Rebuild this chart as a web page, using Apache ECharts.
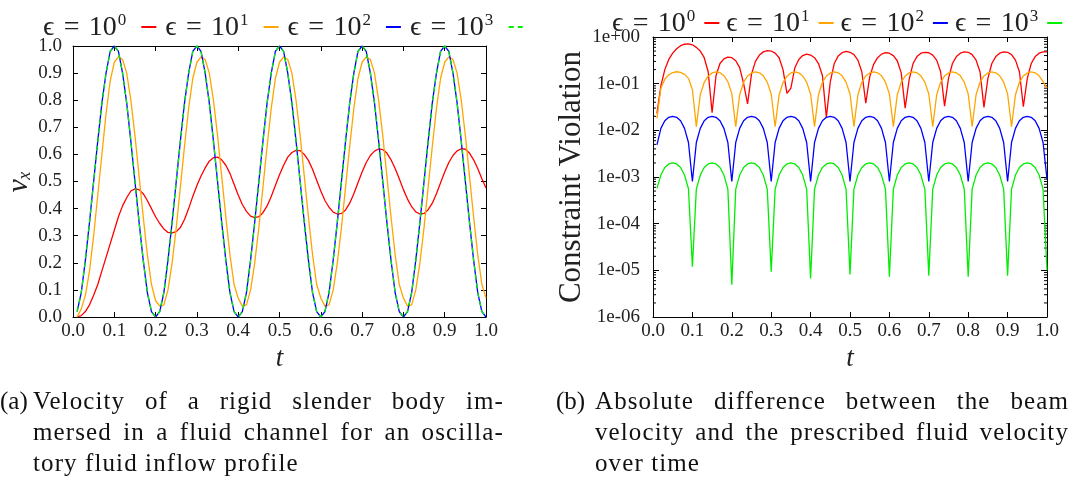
<!DOCTYPE html>
<html>
<head>
<meta charset="utf-8">
<script src="https://cdn.jsdelivr.net/npm/echarts@6/dist/echarts.min.js"></script>
<style>
body { margin: 0; background: #fff; }
#chart { width: 1075px; height: 481px; }
.cap { position: absolute; font-family: "Liberation Serif", serif; font-size: 25px; color: #111; line-height: 31px; letter-spacing: 1.1px; }
.j { text-align: justify; text-align-last: justify; }
</style>
</head>
<body>
<div id="chart"></div>
<div class="cap" style="left:0;top:385px;letter-spacing:0">(a)</div>
<div class="cap" style="left:33px;top:385px;width:471px">
  <div class="j">Velocity of a rigid slender body im-</div>
  <div class="j">mersed in a fluid channel for an oscilla-</div>
  <div>tory fluid inflow profile</div>
</div>
<div class="cap" style="left:556px;top:385px;letter-spacing:0">(b)</div>
<div class="cap" style="left:595px;top:385px;width:474px">
  <div class="j">Absolute difference between the beam</div>
  <div class="j">velocity and the prescribed fluid velocity</div>
  <div>over time</div>
</div>
<script>
// time samples shared by both panels
var times = [
    0.01,0.02,0.03,0.04,0.05,0.06,0.07,0.08,0.09,0.10,
    0.11,0.12,0.13,0.14,0.15,0.16,0.17,0.18,0.19,0.20,
    0.21,0.22,0.23,0.24,0.25,0.26,0.27,0.28,0.29,0.30,
    0.31,0.32,0.33,0.34,0.35,0.36,0.37,0.38,0.39,0.40,
    0.41,0.42,0.43,0.44,0.45,0.46,0.47,0.48,0.49,0.50,
    0.51,0.52,0.53,0.54,0.55,0.56,0.57,0.58,0.59,0.60,
    0.61,0.62,0.63,0.64,0.65,0.66,0.67,0.68,0.69,0.70,
    0.71,0.72,0.73,0.74,0.75,0.76,0.77,0.78,0.79,0.80,
    0.81,0.82,0.83,0.84,0.85,0.86,0.87,0.88,0.89,0.90,
    0.91,0.92,0.93,0.94,0.95,0.96,0.97,0.98,0.99,1.00
];
var seriesNames = ['ϵ = 10⁰', 'ϵ = 10¹', 'ϵ = 10²', 'ϵ = 10³'];
var epsExponents = ['0', '1', '2', '3'];
var xTicks = ['0.0','0.1','0.2','0.3','0.4','0.5','0.6','0.7','0.8','0.9','1.0'];

// (a) velocity v_x
var velEps0 = [
    0.0,0.005,0.02,0.045,0.08,0.12,0.17,0.22,0.27,0.32,
    0.37,0.41,0.44,0.465,0.473,0.47,0.455,0.43,0.4,0.37,
    0.345,0.325,0.312,0.31,0.315,0.33,0.36,0.4,0.445,0.485,
    0.52,0.55,0.575,0.588,0.59,0.58,0.56,0.53,0.49,0.45,
    0.415,0.39,0.372,0.367,0.37,0.385,0.41,0.445,0.485,0.525,
    0.56,0.59,0.607,0.615,0.614,0.6,0.578,0.545,0.505,0.465,
    0.43,0.405,0.387,0.38,0.382,0.395,0.42,0.455,0.495,0.535,
    0.57,0.596,0.612,0.62,0.618,0.605,0.58,0.548,0.51,0.47,
    0.435,0.407,0.388,0.38,0.382,0.396,0.42,0.455,0.495,0.535,
    0.57,0.596,0.613,0.621,0.619,0.605,0.58,0.548,0.51,0.476
];
var velEps1 = [
    0.0,0.03,0.08,0.17,0.3,0.45,0.6,0.75,0.87,0.94,
    0.96,0.95,0.9,0.8,0.67,0.52,0.37,0.23,0.12,0.06,
    0.04,0.045,0.1,0.2,0.33,0.48,0.63,0.77,0.88,0.94,
    0.96,0.95,0.9,0.8,0.67,0.52,0.37,0.23,0.12,0.07,
    0.04,0.045,0.1,0.2,0.33,0.48,0.63,0.77,0.88,0.94,
    0.96,0.95,0.9,0.8,0.67,0.52,0.37,0.23,0.12,0.07,
    0.04,0.045,0.1,0.2,0.33,0.48,0.63,0.77,0.88,0.94,
    0.96,0.95,0.9,0.8,0.67,0.52,0.37,0.23,0.12,0.07,
    0.04,0.045,0.1,0.2,0.33,0.48,0.63,0.77,0.88,0.94,
    0.96,0.95,0.9,0.8,0.67,0.52,0.37,0.23,0.12,0.07
];
var velEps2 = [
    0.02,0.09,0.21,0.35,0.5,0.65,0.79,0.9,0.98,1.0,
    0.98,0.9,0.79,0.65,0.5,0.35,0.21,0.09,0.02,0.0,
    0.02,0.09,0.21,0.35,0.5,0.65,0.79,0.9,0.98,1.0,
    0.98,0.9,0.79,0.65,0.5,0.35,0.21,0.09,0.02,0.0,
    0.02,0.09,0.21,0.35,0.5,0.65,0.79,0.9,0.98,1.0,
    0.98,0.9,0.79,0.65,0.5,0.35,0.21,0.09,0.02,0.0,
    0.02,0.09,0.21,0.35,0.5,0.65,0.79,0.9,0.98,1.0,
    0.98,0.9,0.79,0.65,0.5,0.35,0.21,0.09,0.02,0.0,
    0.02,0.09,0.21,0.35,0.5,0.65,0.79,0.9,0.98,1.0,
    0.98,0.9,0.79,0.65,0.5,0.35,0.21,0.09,0.02,0.0
];
var velEps3 = [
    0.02,0.09,0.21,0.35,0.5,0.65,0.79,0.9,0.98,1.0,
    0.98,0.9,0.79,0.65,0.5,0.35,0.21,0.09,0.02,0.0,
    0.02,0.09,0.21,0.35,0.5,0.65,0.79,0.9,0.98,1.0,
    0.98,0.9,0.79,0.65,0.5,0.35,0.21,0.09,0.02,0.0,
    0.02,0.09,0.21,0.35,0.5,0.65,0.79,0.9,0.98,1.0,
    0.98,0.9,0.79,0.65,0.5,0.35,0.21,0.09,0.02,0.0,
    0.02,0.09,0.21,0.35,0.5,0.65,0.79,0.9,0.98,1.0,
    0.98,0.9,0.79,0.65,0.5,0.35,0.21,0.09,0.02,0.0,
    0.02,0.09,0.21,0.35,0.5,0.65,0.79,0.9,0.98,1.0,
    0.98,0.9,0.79,0.65,0.5,0.35,0.21,0.09,0.02,0.0
];

// (b) constraint violation
var errEps0 = [
    0.023,0.09,0.2,0.33,0.45,0.56,0.65,0.7,0.71,0.68,
    0.6,0.5,0.36,0.18,0.024,0.15,0.27,0.34,0.37,0.36,
    0.31,0.22,0.1,0.037,0.16,0.3,0.41,0.48,0.51,0.5,
    0.45,0.36,0.2,0.062,0.08,0.22,0.33,0.4,0.43,0.41,
    0.36,0.27,0.15,0.019,0.11,0.27,0.39,0.46,0.49,0.47,
    0.42,0.32,0.18,0.038,0.14,0.26,0.36,0.43,0.46,0.45,
    0.4,0.31,0.17,0.03,0.12,0.27,0.38,0.45,0.47,0.46,
    0.41,0.32,0.18,0.033,0.13,0.27,0.38,0.45,0.48,0.47,
    0.42,0.32,0.18,0.031,0.13,0.27,0.38,0.45,0.48,0.47,
    0.42,0.32,0.18,0.032,0.13,0.27,0.38,0.45,0.48,0.48
];
var errEps1 = [
    0.018,0.08,0.125,0.155,0.172,0.18,0.175,0.158,0.13,0.075,
    0.012,0.058,0.107,0.145,0.17,0.18,0.172,0.148,0.11,0.062,
    0.012,0.058,0.107,0.146,0.17,0.18,0.171,0.147,0.108,0.06,
    0.012,0.057,0.106,0.145,0.17,0.179,0.171,0.146,0.108,0.06,
    0.012,0.058,0.107,0.146,0.17,0.18,0.171,0.147,0.108,0.06,
    0.012,0.058,0.107,0.146,0.17,0.18,0.171,0.147,0.108,0.06,
    0.012,0.058,0.107,0.146,0.17,0.18,0.171,0.147,0.108,0.06,
    0.012,0.058,0.107,0.146,0.17,0.18,0.171,0.147,0.108,0.06,
    0.012,0.058,0.107,0.146,0.17,0.18,0.171,0.147,0.108,0.06,
    0.012,0.058,0.107,0.146,0.17,0.18,0.171,0.147,0.11,0.08
];
var errEps2 = [
    0.0049,0.011,0.016,0.019,0.02,0.019,0.016,0.011,0.0055,0.0008,
    0.0055,0.011,0.016,0.019,0.02,0.019,0.016,0.011,0.0055,0.0008,
    0.0055,0.011,0.016,0.019,0.02,0.019,0.016,0.011,0.0055,0.0008,
    0.0055,0.011,0.016,0.019,0.02,0.019,0.016,0.011,0.0055,0.0008,
    0.0055,0.011,0.016,0.019,0.02,0.019,0.016,0.011,0.0055,0.0008,
    0.0055,0.011,0.016,0.019,0.02,0.019,0.016,0.011,0.0055,0.0008,
    0.0055,0.011,0.016,0.019,0.02,0.019,0.016,0.011,0.0055,0.0008,
    0.0055,0.011,0.016,0.019,0.02,0.019,0.016,0.011,0.0055,0.0008,
    0.0055,0.011,0.016,0.019,0.02,0.019,0.016,0.011,0.0055,0.0008,
    0.0055,0.011,0.016,0.019,0.02,0.019,0.016,0.011,0.0055,0.0009
];
var errEps3 = [
    0.00057,0.0011,0.0016,0.0019,0.002,0.0019,0.0016,0.0011,0.00056,0.000012,
    0.00055,0.0011,0.0016,0.0019,0.002,0.0019,0.0016,0.0011,0.00055,0.0000049,
    0.00055,0.0011,0.0016,0.0019,0.002,0.0019,0.0016,0.0011,0.00055,0.0000093,
    0.00055,0.0011,0.0016,0.0019,0.002,0.0019,0.0016,0.0011,0.00055,0.0000067,
    0.00055,0.0011,0.0016,0.0019,0.002,0.0019,0.0016,0.0011,0.00055,0.0000082,
    0.00055,0.0011,0.0016,0.0019,0.002,0.0019,0.0016,0.0011,0.00055,0.0000073,
    0.00055,0.0011,0.0016,0.0019,0.002,0.0019,0.0016,0.0011,0.00055,0.0000077,
    0.00055,0.0011,0.0016,0.0019,0.002,0.0019,0.0016,0.0011,0.00055,0.0000073,
    0.00055,0.0011,0.0016,0.0019,0.002,0.0019,0.0016,0.0011,0.00055,0.0000077,
    0.00055,0.0011,0.0016,0.0019,0.002,0.0019,0.0016,0.0011,0.00055,0.00001
];
var decades = [1e-6, 1e-5, 1e-4, 1e-3, 1e-2, 1e-1];

var colors = ['#ff0000', '#ffa500', '#0000ff', '#00ee00'];
var serif = '"Liberation Serif", serif';
var dashIcon = 'path://M0,0h5v2h-5zM9,0h5v2h-5z';

function pairs(vals) {
    return times.map(function (t, i) { return [t, vals[i]]; });
}
function expLabel(v) {
    var e = Math.round(Math.log(v) / Math.LN10);
    var s = e < 0 ? '-' : '+';
    var a = Math.abs(e);
    return '1e' + s + (a < 10 ? '0' + a : a);
}
function legendText(name) {
    var i = seriesNames.indexOf(name);
    return '{b|ϵ\u2004=\u200410}{s|' + epsExponents[i] + '}';
}
function legendStyle(supGap) {
    return {
        fontFamily: serif, color: '#222',
        rich: {
            b: { fontFamily: serif, fontSize: 28, lineHeight: 30, color: '#222', verticalAlign: 'bottom' },
            s: { fontFamily: serif, fontSize: 17, lineHeight: 14, color: '#222', verticalAlign: 'top', padding: [0, supGap, 0, 1] }
        }
    };
}

// minor ticks for the log axis: 2..9 per decade
var minorVals = [];
decades.forEach(function (d) {
    for (var k = 2; k <= 9; k++) minorVals.push([0, d * k]);
});

var tickCommon = { show: true, inside: true, length: 5, lineStyle: { color: '#000' } };
var lineCommon = { show: true, onZero: false, lineStyle: { color: '#000', width: 1 } };
var labelStyle = { fontFamily: serif, fontSize: 19, color: '#222' };

function xAx(grid, pos, show) {
    return {
        gridIndex: grid, type: 'value', position: pos, min: 0, max: 1, interval: 0.1,
        axisLine: lineCommon, axisTick: tickCommon, splitLine: { show: false },
        axisLabel: show ? Object.assign({ margin: 5, formatter: function (v) { return xTicks[Math.round(v * 10)]; } }, labelStyle) : { show: false },
        name: show ? 't' : '', nameLocation: 'middle', nameGap: 18,
        nameTextStyle: { fontFamily: serif, fontSize: 27, fontStyle: 'italic', color: '#222' }
    };
}

var myChart = echarts.init(document.getElementById('chart'));
var chartOption = {
    animation: false,
    backgroundColor: '#fff',
    legend: [{
        data: seriesNames.map(function (n, i) { return { name: n, icon: i === 3 ? dashIcon : 'rect' }; }),
        left: 38, top: 7, width: 700, align: 'right',
        itemWidth: 15, itemHeight: 2, itemGap: 9,
        formatter: legendText, textStyle: legendStyle(10)
    }, {
        data: seriesNames.map(function (n) { return { name: n, icon: 'rect' }; }),
        left: 607, top: 3, width: 700, align: 'right',
        itemWidth: 15, itemHeight: 2, itemGap: 7,
        formatter: legendText, textStyle: legendStyle(4)
    }],
    grid: [
        { left: 73, top: 46, width: 413, height: 271 },
        { left: 653, top: 37, width: 394, height: 280 }
    ],
    xAxis: [xAx(0, 'bottom', true), xAx(0, 'top', false), xAx(1, 'bottom', true), xAx(1, 'top', false)],
    yAxis: [{
        gridIndex: 0, type: 'value', position: 'left', min: 0, max: 1, interval: 0.1,
        axisLine: lineCommon, axisTick: tickCommon, splitLine: { show: false },
        axisLabel: Object.assign({ margin: 11, formatter: function (v) { return v.toFixed(1); } }, labelStyle),
        name: 'vₓ', nameLocation: 'middle', nameGap: 38,
        nameTextStyle: { fontFamily: serif, fontSize: 30, fontStyle: 'italic', color: '#222' }
    }, {
        gridIndex: 0, type: 'value', position: 'right', min: 0, max: 1, interval: 0.1,
        axisLine: lineCommon, axisTick: tickCommon, splitLine: { show: false }, axisLabel: { show: false }
    }, {
        gridIndex: 1, type: 'log', logBase: 10, position: 'left', min: 1e-6, max: 1, splitNumber: 6,
        axisLine: lineCommon, axisTick: Object.assign({}, tickCommon, { length: 6 }), splitLine: { show: false },
        axisLabel: Object.assign({ margin: 13, formatter: expLabel }, labelStyle),
        name: 'Constraint Violation', nameLocation: 'middle', nameGap: 66,
        nameTextStyle: { fontFamily: serif, fontSize: 31, color: '#222' }
    }, {
        gridIndex: 1, type: 'log', logBase: 10, position: 'right', min: 1e-6, max: 1, splitNumber: 6,
        axisLine: lineCommon, axisTick: Object.assign({}, tickCommon, { length: 6 }), splitLine: { show: false }, axisLabel: { show: false }
    }],
    series: []
};

var velSets = [velEps0, velEps1, velEps2, velEps3];
var errSets = [errEps0, errEps1, errEps2, errEps3];
velSets.forEach(function (vals, i) {
    chartOption.series.push({
        name: seriesNames[i], type: 'line', xAxisIndex: 0, yAxisIndex: 0,
        data: pairs(vals), symbol: 'none', showSymbol: false, color: colors[i],
        lineStyle: { width: 1.3, color: colors[i], type: i === 3 ? [5, 4] : 'solid' }
    });
});
errSets.forEach(function (vals, i) {
    chartOption.series.push({
        name: seriesNames[i], type: 'line', xAxisIndex: 2, yAxisIndex: 2,
        data: pairs(vals), symbol: 'none', showSymbol: false, color: colors[i],
        lineStyle: { width: 1.3, color: colors[i] }
    });
});
chartOption.series.push({
    type: 'custom', xAxisIndex: 2, yAxisIndex: 2, silent: true, clip: false,
    data: minorVals,
    renderItem: function (params, api) {
        var v = api.value(1);
        var a = api.coord([0, v]);
        var b = api.coord([1, v]);
        var st = { stroke: '#000', lineWidth: 1 };
        return {
            type: 'group', children: [
                { type: 'line', shape: { x1: a[0], y1: a[1], x2: a[0] + 3, y2: a[1] }, style: st },
                { type: 'line', shape: { x1: b[0] - 3, y1: b[1], x2: b[0], y2: b[1] }, style: st }
            ]
        };
    }
});
myChart.setOption(chartOption);
</script>
</body>
</html>
